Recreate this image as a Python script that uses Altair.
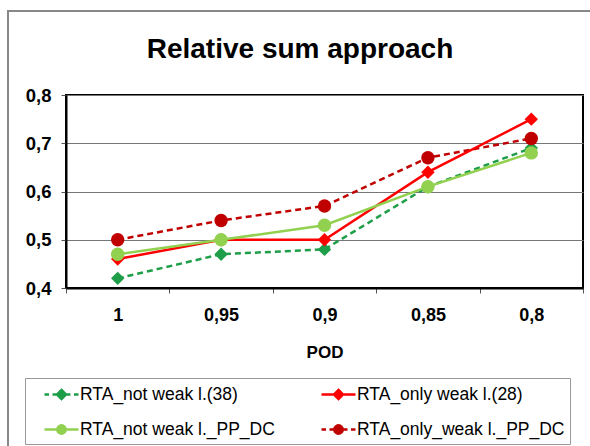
import altair as alt
import pandas as pd

pod = ["1", "0,95", "0,9", "0,85", "0,8"]
series_names = [
    "RTA_not weak l.(38)",
    "RTA_only weak l.(28)",
    "RTA_not weak l._PP_DC",
    "RTA_only_weak l._PP_DC",
]
not_weak_38 = [0.42, 0.47, 0.48, 0.61, 0.69]
only_weak_28 = [0.46, 0.50, 0.50, 0.64, 0.75]
not_weak_ppdc = [0.47, 0.50, 0.53, 0.61, 0.68]
only_weak_ppdc = [0.50, 0.54, 0.57, 0.67, 0.71]
y_ticks = [0.4, 0.5, 0.6, 0.7, 0.8]
chart_title = "Relative sum approach"

colors = ["#1E9E48", "#FF0000", "#92D050", "#C00000"]
markers = ["diamond", "diamond", "circle", "circle"]
dashed = [True, False, False, True]

# legend glyphs (units of 10 px): line with marker, drawn right of the nominal symbol box
DIA = "M2.0,-0.45L2.45,0L2.0,0.45L1.55,0Z"
CIR = "M1.58,0A0.42,0.42 0 1,0 2.42,0A0.42,0.42 0 1,0 1.58,0Z"
SOLID = "M0.3,0H3.7"
DASHED = "M0.3,0H0.75M1.1,0H2.9M3.25,0H3.7"
legend_paths = [DASHED + DIA, SOLID + DIA, SOLID + CIR, DASHED + CIR]

values = [not_weak_38, only_weak_28, not_weak_ppdc, only_weak_ppdc]
rows = []
for name, col, mk, ds, vals in zip(series_names, colors, markers, dashed, values):
    for p, v in zip(pod, vals):
        rows.append({"POD": p, "value": v, "series": name, "hex": col,
                     "marker": mk, "dashed": ds})
df = pd.DataFrame(rows)

FONT = "Liberation Sans"

x_enc = alt.X(
    "POD:N",
    sort=pod,
    title="POD",
    scale=alt.Scale(paddingInner=0, paddingOuter=0),
    axis=alt.Axis(
        tickBand="extent",
        labelAngle=0,
        labelFontSize=18,
        labelFontWeight="bold",
        labelFont=FONT,
        labelColor="black",
        labelPadding=13,
        tickSize=5,
        tickColor="#555555",
        domainColor="black",
        domainWidth=2,
        titleFontSize=17,
        titleFontWeight="bold",
        titleFont=FONT,
        titleColor="black",
        titlePadding=20,
        grid=False,
    ),
)
y_enc = alt.Y(
    "value:Q",
    scale=alt.Scale(domain=[0.4, 0.8], nice=False, zero=False),
    axis=alt.Axis(
        values=y_ticks,
        labelExpr="replace(format(datum.value, '.1f'), '.', ',')",
        labelFontSize=18.5,
        labelFontWeight="bold",
        labelFont=FONT,
        labelColor="black",
        labelPadding=10,
        tickSize=5,
        tickColor="#555555",
        domainColor="black",
        domainWidth=2,
        gridColor="#777777",
        gridWidth=1,
        title=None,
    ),
)

xs = alt.X("POD:N", sort=pod)
hex_color = alt.Color("hex:N", scale=None)

lines_dashed = (
    alt.Chart(df)
    .transform_filter(alt.datum.dashed == True)
    .mark_line(strokeWidth=2.5, strokeDash=[6, 4])
    .encode(x=x_enc, y=y_enc, color=hex_color, detail="series:N")
)
lines_solid = (
    alt.Chart(df)
    .transform_filter(alt.datum.dashed == False)
    .mark_line(strokeWidth=2.5)
    .encode(x=xs, y="value:Q", color=hex_color, detail="series:N")
)
diamonds = (
    alt.Chart(df)
    .transform_filter(alt.datum.marker == "diamond")
    .mark_point(filled=True, size=180, opacity=1, shape="diamond")
    .encode(x=xs, y="value:Q", color=hex_color)
)
circles = (
    alt.Chart(df)
    .transform_filter(alt.datum.marker == "circle")
    .mark_point(filled=True, size=180, opacity=1, shape="circle")
    .encode(x=xs, y="value:Q", color=hex_color)
)

legend_layer = alt.Chart(df).mark_point(filled=True, opacity=0).encode(
    x=xs,
    y="value:Q",
    fill=alt.Fill("series:N", scale=alt.Scale(domain=series_names, range=colors), title=None),
    stroke=alt.Stroke("series:N", scale=alt.Scale(domain=series_names, range=colors), title=None),
    shape=alt.Shape("series:N", scale=alt.Scale(domain=series_names, range=legend_paths), title=None),
)

frame = alt.Chart(df).mark_rect(
    fill=None, stroke="#888888", strokeWidth=1.5
).encode(
    x=alt.value(-58), x2=alt.value(700), y=alt.value(-84), y2=alt.value(600)
)

title_layer = alt.Chart(pd.DataFrame({"t": [chart_title]})).mark_text(
    font=FONT, fontSize=28, fontWeight="bold", color="black",
    align="center", baseline="alphabetic",
).encode(text="t:N", x=alt.value(234), y=alt.value(-37))

chart = (
    alt.layer(frame, lines_dashed, lines_solid, diamonds, circles, legend_layer, title_layer)
    .properties(
        width=517,
        height=193,
        autosize=alt.AutoSizeParams(type="none"),
        padding={"left": 66, "top": 95, "right": 7, "bottom": 158},
        background="white",
    )
    .configure_view(stroke="black", strokeWidth=2)
    .configure_legend(
        orient="none",
        direction="horizontal",
        legendX=-41,
        legendY=283,
        columns=2,
        columnPadding=32,
        rowPadding=14,
        symbolSize=400,
        symbolStrokeWidth=2.5,
        symbolOpacity=1,
        labelFont=FONT,
        labelFontSize=17.5,
        labelColor="black",
        labelLimit=400,
        labelOffset=27,
        fillColor="white",
        strokeColor="#999999",
        padding=5,
    )
)

chart.save("out.html", embed_options={"renderer": "svg", "actions": False})
